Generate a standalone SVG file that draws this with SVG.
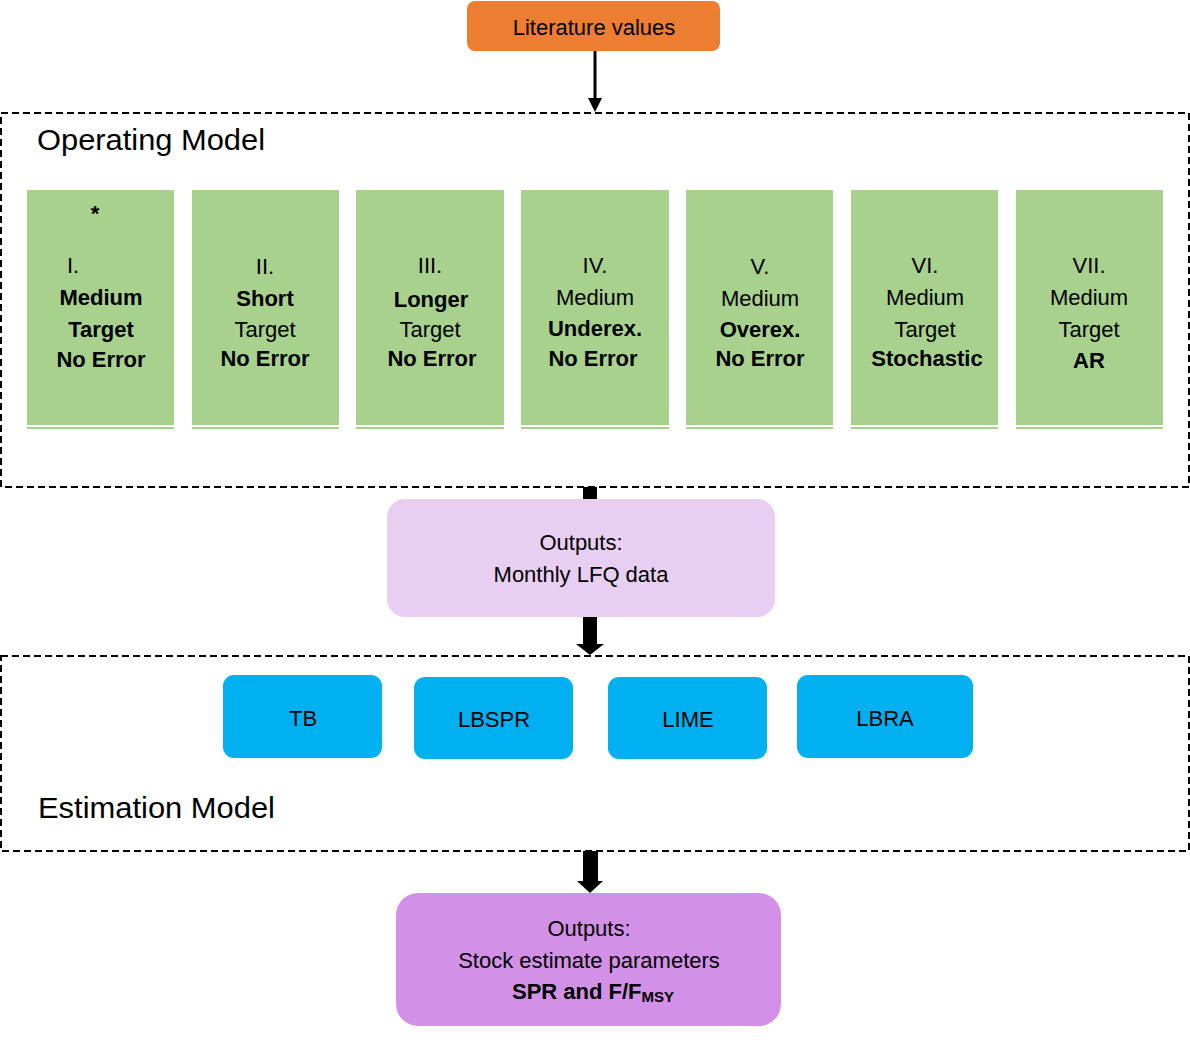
<svg xmlns="http://www.w3.org/2000/svg" width="1190" height="1052" viewBox="0 0 1190 1052">
<style>
text{font-family:"Liberation Sans",Arial,sans-serif;fill:#000;text-anchor:middle}
.g{fill:#A9D18E}
.t{font-size:22px}
.b{font-weight:bold}
.frame{fill:none;stroke:#000;stroke-width:2;stroke-dasharray:7 4}
.blue{fill:#00B0F0}
.big{font-size:30px;text-anchor:start}
</style>
<rect width="1190" height="1052" fill="#fff"/>
<g id="operating-model">
<rect class="frame" x="1" y="113" width="1188" height="374"/>
<text class="big" x="37" y="150" textLength="228" lengthAdjust="spacingAndGlyphs">Operating Model</text>
</g>
<g id="estimation-model">
<rect class="frame" x="1" y="656" width="1188" height="195"/>
<text class="big" x="38" y="818" textLength="237" lengthAdjust="spacingAndGlyphs">Estimation Model</text>
</g>
<g id="connectors">
<line x1="595" y1="51" x2="595" y2="99" stroke="#000" stroke-width="3"/>
<polygon points="588,98 602,98 595,112" fill="#000"/>
<rect x="583" y="487" width="14" height="158" fill="#000"/>
<polygon points="576,644 604,644 590,655" fill="#000"/>
<rect x="583" y="851" width="15" height="32" fill="#000"/>
<polygon points="577,881 603,881 590,893" fill="#000"/>
</g>
<g id="literature">
<rect x="467" y="1" width="253" height="50" rx="8" fill="#ED7D31"/>
<text class="t" x="594" y="35">Literature values</text>
</g>
<g id="om1">
<rect class="g" x="27" y="190" width="147" height="235"/><rect class="g" x="27" y="427" width="147" height="2"/>
<text class="t b" x="95" y="221" font-size="24">*</text>
<text class="t" x="73" y="273">I.</text>
<text class="t b" x="101" y="305">Medium</text>
<text class="t b" x="101" y="337">Target</text>
<text class="t b" x="101" y="367">No Error</text>
</g>
<g id="om2">
<rect class="g" x="192" y="190" width="147" height="235"/><rect class="g" x="192" y="427" width="147" height="2"/>
<text class="t" x="265" y="274">II.</text>
<text class="t b" x="265" y="306">Short</text>
<text class="t" x="265" y="337">Target</text>
<text class="t b" x="265" y="366">No Error</text>
</g>
<g id="om3">
<rect class="g" x="356" y="190" width="148" height="235"/><rect class="g" x="356" y="427" width="148" height="2"/>
<text class="t" x="430" y="273">III.</text>
<text class="t b" x="431" y="307">Longer</text>
<text class="t" x="430" y="337">Target</text>
<text class="t b" x="432" y="366">No Error</text>
</g>
<g id="om4">
<rect class="g" x="521" y="190" width="148" height="235"/><rect class="g" x="521" y="427" width="148" height="2"/>
<text class="t" x="595" y="273">IV.</text>
<text class="t" x="595" y="305">Medium</text>
<text class="t b" x="595" y="336">Underex.</text>
<text class="t b" x="593" y="366">No Error</text>
</g>
<g id="om5">
<rect class="g" x="686" y="190" width="147" height="235"/><rect class="g" x="686" y="427" width="147" height="2"/>
<text class="t" x="760" y="274">V.</text>
<text class="t" x="760" y="306">Medium</text>
<text class="t b" x="760" y="337">Overex.</text>
<text class="t b" x="760" y="366">No Error</text>
</g>
<g id="om6">
<rect class="g" x="851" y="190" width="147" height="235"/><rect class="g" x="851" y="427" width="147" height="2"/>
<text class="t" x="925" y="273">VI.</text>
<text class="t" x="925" y="305">Medium</text>
<text class="t" x="925" y="337">Target</text>
<text class="t b" x="927" y="366">Stochastic</text>
</g>
<g id="om7">
<rect class="g" x="1016" y="190" width="147" height="235"/><rect class="g" x="1016" y="427" width="147" height="2"/>
<text class="t" x="1089" y="273">VII.</text>
<text class="t" x="1089" y="305">Medium</text>
<text class="t" x="1089" y="337">Target</text>
<text class="t b" x="1089" y="368">AR</text>
</g>
<g id="outputs-lfq">
<rect x="387" y="499" width="388" height="118" rx="18" fill="#E8CFF2"/>
<text class="t" x="581" y="550">Outputs:</text>
<text class="t" x="581" y="582">Monthly LFQ data</text>
</g>
<g id="tb"><rect class="blue" x="223" y="675" width="159" height="83" rx="11"/><text class="t" x="303" y="726">TB</text></g>
<g id="lbspr"><rect class="blue" x="414" y="677" width="159" height="82" rx="11"/><text class="t" x="494" y="727">LBSPR</text></g>
<g id="lime"><rect class="blue" x="608" y="677" width="159" height="82" rx="11"/><text class="t" x="688" y="727">LIME</text></g>
<g id="lbra"><rect class="blue" x="797" y="675" width="176" height="83" rx="11"/><text class="t" x="885" y="726">LBRA</text></g>
<g id="outputs-stock">
<rect x="396" y="893" width="385" height="133" rx="22" fill="#D291E6"/>
<text class="t" x="589" y="936">Outputs:</text>
<text class="t" x="589" y="968">Stock estimate parameters</text>
<text class="t b" x="593" y="999">SPR and F/F<tspan font-size="15" dy="3">MSY</tspan></text>
</g>
</svg>
